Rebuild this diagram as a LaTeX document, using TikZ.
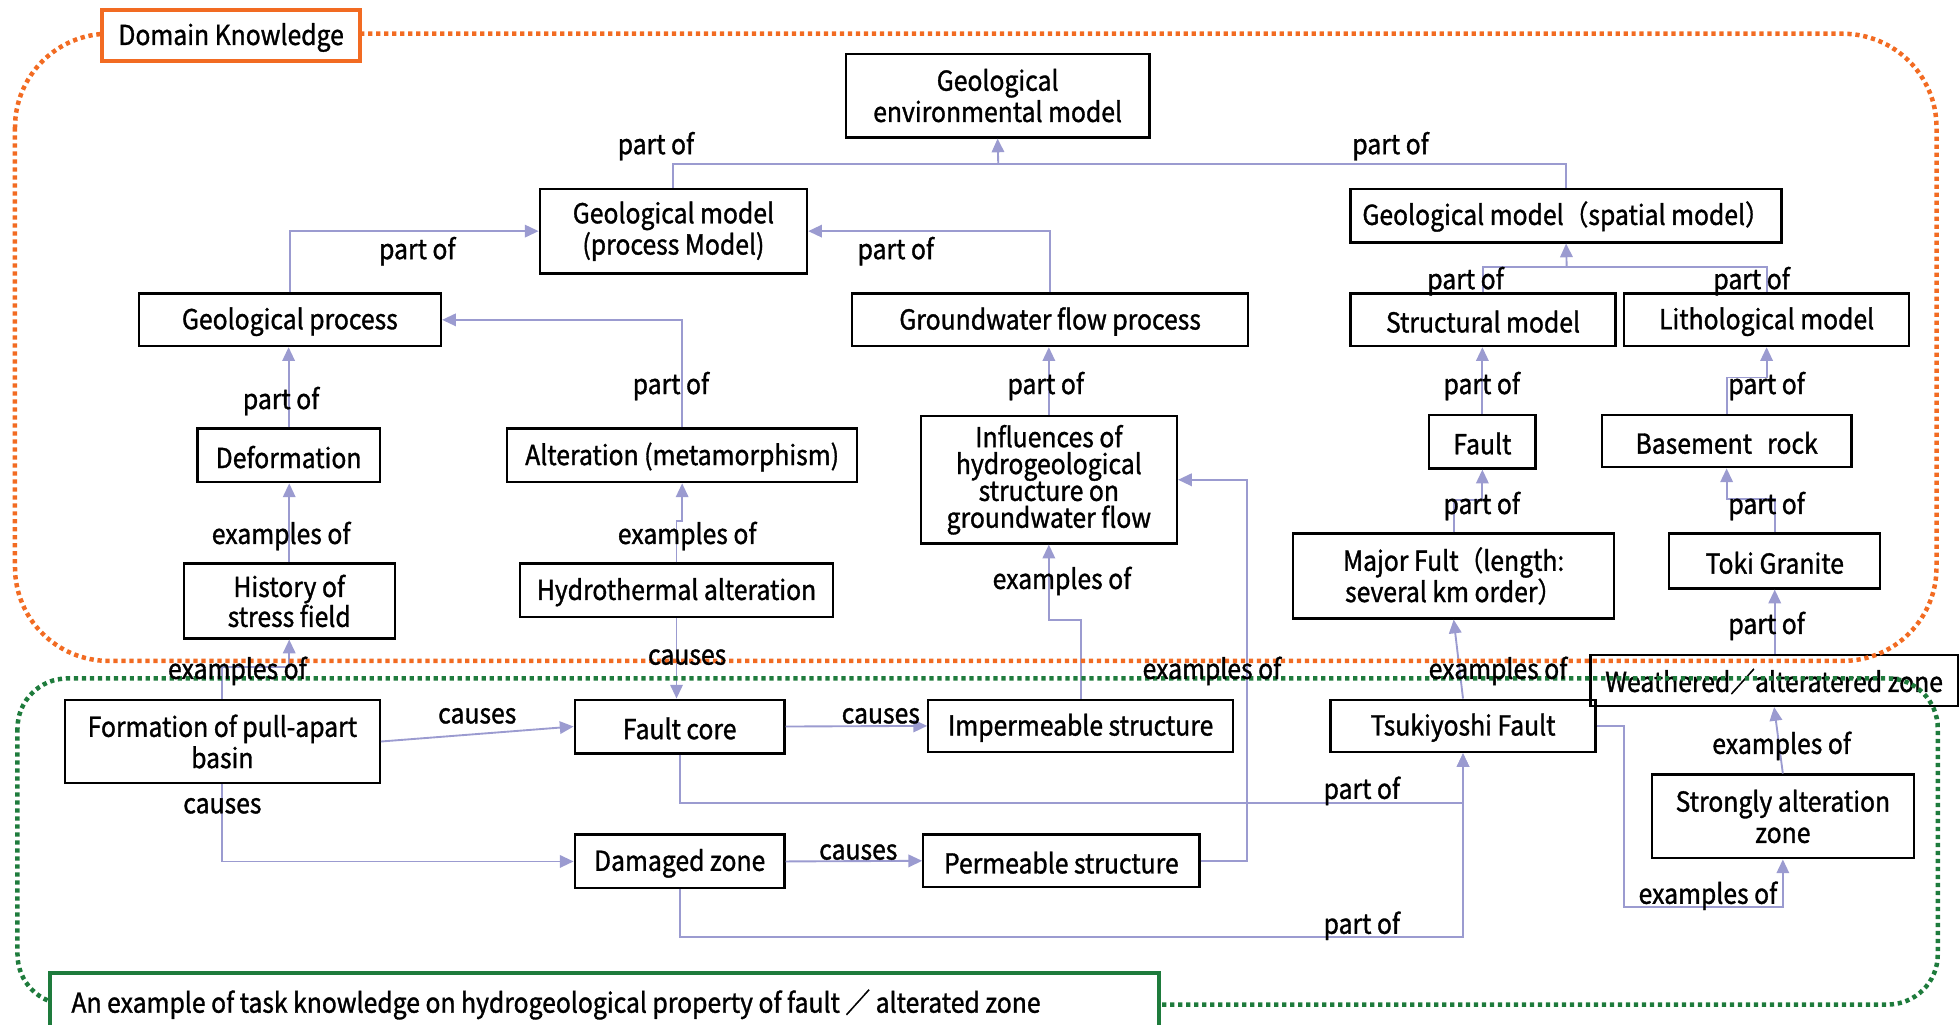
\documentclass[tikz,border=0pt]{standalone}
\usepackage{fontspec}
\setmainfont{Noto Sans CJK JP}[FakeStretch=0.9,FakeBold=1.2]
\usetikzlibrary{arrows.meta}
\definecolor{dkorange}{HTML}{F26B22}
\definecolor{dkgreen}{HTML}{1E7B3C}
\definecolor{lav}{HTML}{9B9BD0}
\begin{document}
\begin{tikzpicture}[x=1pt,y=-1pt,
  box/.style={draw=black, line width=1.8pt, fill=white, align=center, inner sep=0pt,
    font=\fontsize{22}{25}\selectfont, execute at begin node={\rule{0pt}{20.5pt}}},
  conn/.style={draw=lav, line width=1.5pt},
  arr/.style={conn, -{Triangle[length=11pt,width=10pt]}},
  lbl/.style={inner sep=0pt, yshift=-2pt, font=\fontsize{22}{25}\selectfont},
  orangedot/.style={draw=dkorange, line width=3.6pt, dash pattern=on 3.4pt off 3pt},
  greendot/.style={draw=dkgreen, line width=3.6pt, dash pattern=on 3.4pt off 3pt}]
\useasboundingbox (0,0) rectangle (1568,820);
\clip (0,0) rectangle (1568,820);

% nodes
\node[box, minimum width=243pt, minimum height=67pt] (env) at (798.5,76.5) {Geological\\environmental model};
\node[box, minimum width=214pt, minimum height=68pt] (procm) at (539,185) {Geological model\\(process Model)};
\node[box, minimum width=345pt, minimum height=43pt] (spatial) at (1253.5,172.5) {Geological model（spatial model）};
\node[box, minimum width=242pt, minimum height=42pt] (gproc) at (232,256) {Geological process};
\node[box, minimum width=317pt, minimum height=42pt] (gw) at (840.5,256) {Groundwater flow process};
\node[box, minimum width=212pt, minimum height=42pt] (struct) at (1187,256) {Structural model};
\node[box, minimum width=228pt, minimum height=42pt] (litho) at (1414,256) {Lithological model};
\node[box, minimum width=146pt, minimum height=43pt] (deform) at (231,364.5) {Deformation};
\node[box, minimum width=280pt, minimum height=43pt] (alter) at (546,364.5) {Alteration (metamorphism)};
\node[box, minimum width=205pt, minimum height=102pt, font=\fontsize{22}{21.5}\selectfont] (infl) at (839.5,384) {Influences of\\hydrogeological\\structure on\\groundwater flow};
\node[box, minimum width=85pt, minimum height=43pt] (fault) at (1186.5,353.5) {Fault};
\node[box, minimum width=200pt, minimum height=42pt] (base) at (1382,353) {Basement\hspace{0.55em}rock};
\node[box, minimum width=169pt, minimum height=60pt, font=\fontsize{22}{22}\selectfont] (hist) at (231.5,481) {History of\\stress field};
\node[box, minimum width=251pt, minimum height=43pt] (hydro) at (541.5,472.5) {Hydrothermal alteration};
\node[box, minimum width=257pt, minimum height=68pt] (major) at (1163.5,461) {Major Fult（length:\\several km order）};
\node[box, minimum width=169pt, minimum height=44pt] (toki) at (1420.5,449) {Toki Granite};
\node[box, minimum width=252pt, minimum height=67pt] (form) at (178,593.5) {Formation of pull-apart\\basin};
\node[box, minimum width=168pt, minimum height=43pt] (fcore) at (544,581.5) {Fault core};
\node[box, minimum width=244pt, minimum height=42pt] (imperm) at (865,581) {Impermeable structure};
\node[box, minimum width=212pt, minimum height=42pt] (tsuki) at (1171,581) {Tsukiyoshi Fault};
\node[box, minimum width=294pt, minimum height=41pt, fill=none] (weath) at (1420,544.5) {Weathered／alteratered zone};
\node[box, minimum width=168pt, minimum height=43pt] (damaged) at (544,689.5) {Damaged zone};
\node[box, minimum width=221pt, minimum height=42pt] (perm) at (849.5,689) {Permeable structure};
\node[box, minimum width=210pt, minimum height=67pt] (strong) at (1427,653.5) {Strongly alteration\\zone};

% connectors
\coordinate (jA) at (799,131);
\draw[conn] (procm.north) |- (jA) -| (spatial.north);
\draw[arr] (jA) -- (env.south);
\draw[arr] (gproc.north) |- (procm.west);
\draw[arr] (gw.north) |- (procm.east);
\coordinate (jB) at (1254,214);
\draw[conn] (struct.north) |- (jB) -| (litho.north);
\draw[arr] (jB) -- (spatial.south);
\draw[arr] (deform.north) -- (deform.north |- gproc.south);
\draw[arr] (alter.north) |- (gproc.east);
\draw[arr] (infl.north) -- (infl.north |- gw.south);
\draw[arr] (fault.north) -- (fault.north |- struct.south);
\draw[arr] (base.north) -- ++(0,-29) -| (litho.south);
\draw[arr] (hist.north) -- (hist.north |- deform.south);
\draw[arr] (hydro.north) -- ++(0,-33) -| (alter.south);
\draw[arr] (major.north) -- ++(0,-26) -| (fault.south);
\draw[arr] (toki.north) -- ++(0,-27) -| (base.south);
\draw[arr] (form.north) -- ++(0,-25) -| (hist.south);
\draw[arr] (hydro.south) -- (hydro.south |- fcore.north);
\draw[arr] (imperm.north) -- ++(0,-63) -| (infl.south);
\coordinate (qc) at (998,384);
\draw[arr] (perm.east) -| (qc) -- (infl.east);
\draw[arr] (tsuki.north) -- (major.south);
\draw[arr] (weath.north -| toki.south) -- (toki.south);
\draw[arr] (form.east) -- (fcore.west);
\draw[arr] (form.south) |- (damaged.west);
\draw[arr] (fcore.east) -- (imperm.west);
\draw[arr] (damaged.east) -- (perm.west);
\draw[arr] (fcore.south) -- ++(0,39) -| (tsuki.south);
\draw[arr] (damaged.south) -- ++(0,38) -| (tsuki.south);
\coordinate (zc) at (1300,726);
\draw[arr] (tsuki.east) -| (zc) -| (strong.south);
\draw[arr] (strong.north) -- (weath.south);

% region outlines
\draw[orangedot, rounded corners=75pt] (12,27) rectangle (1550,529);
\draw[greendot, rounded corners=40pt] (14,543) rectangle (1551,804);
\node[draw=dkorange, line width=3.2pt, fill=white, minimum width=206pt, minimum height=41pt, inner sep=0pt,
  font=\fontsize{22}{25}\selectfont, execute at begin node={\rule{0pt}{20.5pt}}] (domain) at (185,28.5) {Domain Knowledge};
\draw[draw=dkgreen, line width=3.2pt, fill=white] (40,779) rectangle (928,840);
\node[lbl, anchor=west] (task) at (57,802) {An example of task knowledge on hydrogeological property of fault ／ alterated zone};

% labels
\foreach \p in {(525,115),(1113,115),(334,199),(717,199),(1173,223),(1402,223),(225,319),(537,307),(837,307),(1186,307),(1414,307),(1186,403),(1414,403),(1414,499),(1090,631),(1090,739)}
  \node[lbl] at \p {part of};
\foreach \p in {(225,427),(550,427),(850,463),(190,535),(970,535),(1199,535),(1426,595),(1367,715)}
  \node[lbl] at \p {examples of};
\foreach \p in {(550,524),(382,571),(705,571),(178,643),(687,680)}
  \node[lbl] at \p {causes};
\end{tikzpicture}
\end{document}
